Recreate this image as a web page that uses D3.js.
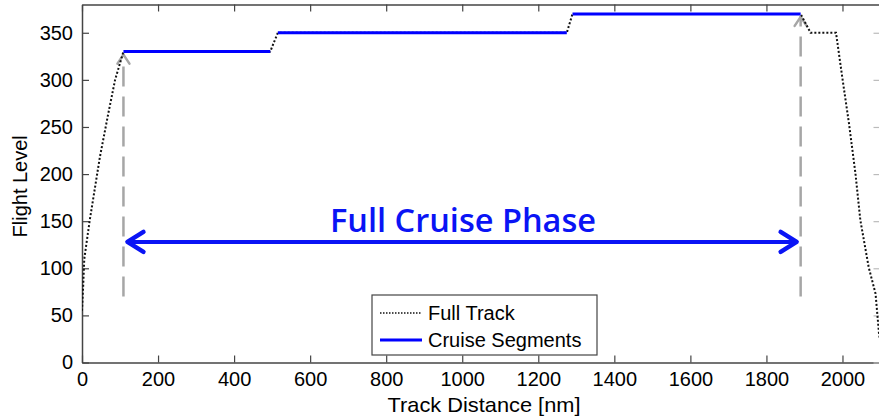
<!DOCTYPE html>
<html>
<head>
<meta charset="utf-8">
<script src="https://cdn.jsdelivr.net/npm/d3@7"></script>
<style>
  body { margin: 0; background: #fff; }
  svg { display: block; }
</style>
</head>
<body>
<script>
// date
const fullTrackDist = [0, 3, 6, 20, 47, 69, 87, 109, 300, 495, 515, 900, 1275, 1290, 1600, 1890, 1916, 1950, 1983, 1999, 2017, 2034, 2047, 2069, 2087, 2096, 2100];
const fullTrackFL   = [55, 80, 110, 150, 218, 264, 300, 330, 330, 330, 350, 350, 350, 370, 370, 370, 350, 350, 350, 304, 254, 201, 151, 101, 73, 31, 20];

const cruiseSegments = [
  { from: 109, to: 495, fl: 330 },
  { from: 515, to: 1275, fl: 350 },
  { from: 1290, to: 1890, fl: 370 }
];

const xTicks = [0, 200, 400, 600, 800, 1000, 1200, 1400, 1600, 1800, 2000];
const yTicks = [0, 50, 100, 150, 200, 250, 300, 350];

const phaseStart = 109, phaseEnd = 1890;
const markerBottomFL = 70;
const phaseArrowFL = 128;

const W = 879, H = 419;
const svg = d3.select("body").append("svg").attr("width", W).attr("height", H);

const x = d3.scaleLinear().domain([0, 2100]).range([82, 880.5]);
const y = d3.scaleLinear().domain([0, 380]).range([362.5, 4.5]);

const axisColor = "#444";
const fontAxis = "'Liberation Sans', Arial, sans-serif";

// clip pentru zona graficului
svg.append("defs").append("clipPath").attr("id", "plotClip")
  .append("rect").attr("x", 82).attr("y", 4.5).attr("width", 800).attr("height", 358);

// axe
const gx = svg.append("g").attr("transform", `translate(0,${y(0)})`)
  .call(d3.axisBottom(x).tickValues(xTicks).tickFormat(d3.format("d")).tickSizeInner(-7).tickSizeOuter(0).tickPadding(9));
const gxTop = svg.append("g").attr("transform", `translate(0,${y(380)})`)
  .call(d3.axisTop(x).tickValues(xTicks).tickSizeInner(-7).tickSizeOuter(0).tickFormat(""));
const gy = svg.append("g").attr("transform", `translate(${x(0)},0)`)
  .call(d3.axisLeft(y).tickValues(yTicks).tickFormat(d3.format("d")).tickSizeInner(-7).tickSizeOuter(0).tickPadding(9));
const gyRight = svg.append("g").attr("transform", `translate(${x(2100)},0)`)
  .call(d3.axisRight(y).tickValues(yTicks).tickSizeInner(-7).tickSizeOuter(0).tickFormat(""));

[gx, gxTop, gy, gyRight].forEach(g => {
  g.attr("font-size", null).attr("font-family", null);
  g.select(".domain").attr("stroke", axisColor).attr("stroke-width", 1.5);
  g.selectAll(".tick line").attr("stroke", axisColor).attr("stroke-width", 1.2);
  g.selectAll("text").attr("fill", "#000").style("font-family", fontAxis).style("font-size", "20px");
});
gyRight.selectAll(".tick line").attr("stroke", "#bbb");

// etichete axe
svg.append("text")
  .attr("x", 484).attr("y", 412)
  .attr("text-anchor", "middle")
  .attr("textLength", 193).attr("lengthAdjust", "spacingAndGlyphs")
  .style("font-family", fontAxis).style("font-size", "21px")
  .text("Track Distance [nm]");

svg.append("text")
  .attr("transform", `translate(27,${y(187)}) rotate(-90)`)
  .attr("text-anchor", "middle")
  .style("font-family", fontAxis).style("font-size", "20px")
  .text("Flight Level");

const plot = svg.append("g").attr("clip-path", "url(#plotClip)");

// linii verticale gri punctate
const markers = [
  { dist: phaseStart, fl: 330 },
  { dist: phaseEnd, fl: 370 }
];
markers.forEach(m => {
  plot.append("line")
    .attr("x1", x(m.dist)).attr("x2", x(m.dist))
    .attr("y1", y(markerBottomFL)).attr("y2", y(m.fl) + 2)
    .attr("stroke", "#a6a6a6").attr("stroke-width", 2.5)
    .attr("stroke-dasharray", "20,10");
  plot.append("path")
    .attr("d", `M${x(m.dist) - 6},${y(m.fl) + 12} L${x(m.dist)},${y(m.fl) + 3} L${x(m.dist) + 6},${y(m.fl) + 12}`)
    .attr("fill", "none").attr("stroke", "#a6a6a6").attr("stroke-width", 2.5)
    .attr("stroke-linecap", "round").attr("stroke-linejoin", "round");
});

// traseul complet
const trackData = fullTrackDist.map((d, i) => ({ d: d, fl: fullTrackFL[i] }));
const line = d3.line().x(p => x(p.d)).y(p => y(p.fl));
plot.append("path")
  .datum(trackData)
  .attr("d", line)
  .attr("fill", "none")
  .attr("stroke", "#111")
  .attr("stroke-width", 2)
  .attr("stroke-dasharray", "2,2");

// segmentele de croazieră
plot.selectAll(".cruise")
  .data(cruiseSegments)
  .enter().append("line")
  .attr("class", "cruise")
  .attr("x1", s => x(s.from)).attr("x2", s => x(s.to))
  .attr("y1", s => y(s.fl)).attr("y2", s => y(s.fl))
  .attr("stroke", "#0000ff").attr("stroke-width", 3);

// săgeata dublă albastră
const ay = y(phaseArrowFL);
const ax1 = x(phaseStart) + 2, ax2 = x(phaseEnd) - 2;
plot.append("line")
  .attr("x1", ax1 + 2).attr("x2", ax2 - 2).attr("y1", ay).attr("y2", ay)
  .attr("stroke", "#0a14f5").attr("stroke-width", 4);
plot.append("path")
  .attr("d", `M${ax1 + 18},${ay - 10} L${ax1 + 2},${ay} L${ax1 + 18},${ay + 10}`)
  .attr("fill", "none").attr("stroke", "#0a14f5").attr("stroke-width", 4.5)
  .attr("stroke-linecap", "round").attr("stroke-linejoin", "round");
plot.append("path")
  .attr("d", `M${ax2 - 18},${ay - 10} L${ax2 - 2},${ay} L${ax2 - 18},${ay + 10}`)
  .attr("fill", "none").attr("stroke", "#0a14f5").attr("stroke-width", 4.5)
  .attr("stroke-linecap", "round").attr("stroke-linejoin", "round");

svg.append("text")
  .attr("x", 463).attr("y", 232)
  .attr("text-anchor", "middle")
  .attr("textLength", 266).attr("lengthAdjust", "spacingAndGlyphs")
  .style("font-family", "'Open Sans', Lato, sans-serif")
  .style("font-weight", "600").style("font-size", "33px")
  .attr("fill", "#0a14f5")
  .text("Full Cruise Phase");

// legenda
const lg = svg.append("g").attr("transform", "translate(372,295)");
lg.append("rect").attr("width", 225).attr("height", 60)
  .attr("fill", "#fff").attr("stroke", axisColor).attr("stroke-width", 1.2);
const legendItems = [
  { label: "Full Track", color: "#111", width: 1.5, dash: "1.5,1.5" },
  { label: "Cruise Segments", color: "#0000ff", width: 3, dash: null }
];
legendItems.forEach((it, i) => {
  const yy = 18 + i * 27;
  lg.append("line")
    .attr("x1", 8).attr("x2", 50).attr("y1", yy).attr("y2", yy)
    .attr("stroke", it.color).attr("stroke-width", it.width)
    .attr("stroke-dasharray", it.dash);
  lg.append("text")
    .attr("x", 56).attr("y", yy + 7)
    .style("font-family", fontAxis).style("font-size", "20px")
    .text(it.label);
});
</script>
</body>
</html>
